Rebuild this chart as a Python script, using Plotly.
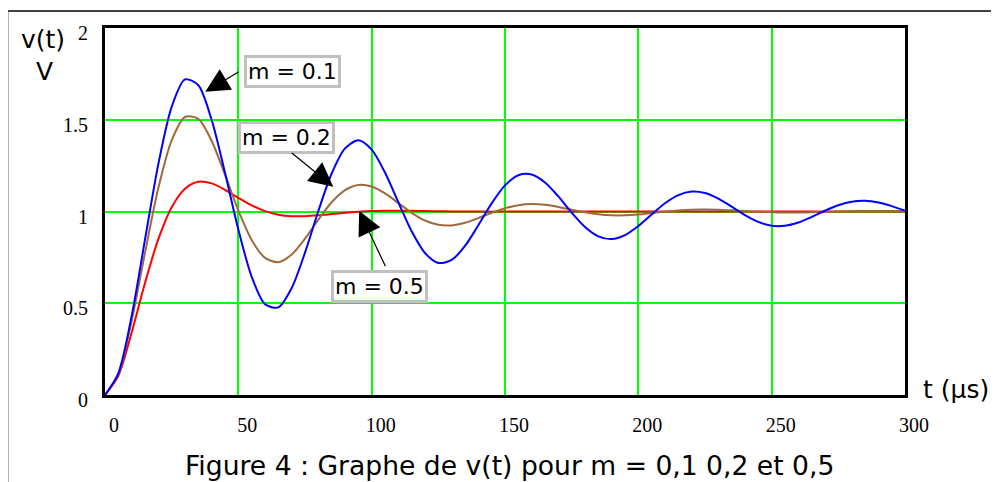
import plotly.graph_objects as go

# time samples (µs)
t_us = list(range(0, 305, 5))

# v(t), m = 0.1
v_m01 = [0.0, 0.1185, 0.4310, 0.8464, 1.2581, 1.5704, 1.7201, 1.6878, 1.4983, 1.2108,
         0.9014, 0.6445, 0.4949, 0.4772, 0.5830, 0.7758, 1.0026, 1.2072, 1.3440, 1.3877,
         1.3369, 1.2124, 1.0503, 0.8919, 0.7737, 0.7196, 0.7359, 0.8122, 0.9250, 1.0445,
         1.1423, 1.1976, 1.2017, 1.1583, 1.0822, 0.9942, 0.9159, 0.8647, 0.8498, 0.8714,
         0.9209, 0.9841, 1.0450, 1.0896, 1.1091, 1.1013, 1.0707, 1.0265, 0.9803, 0.9431,
         0.9227, 0.9223, 0.9400, 0.9700, 1.0041, 1.0340, 1.0532, 1.0581, 1.0490, 1.0294,
         1.0048]

# m = 0.2
v_m02 = [0.0, 0.1147, 0.4050, 0.7748, 1.1275, 1.3880, 1.5151, 1.5049, 1.3845, 1.2006,
         1.0055, 0.8446, 0.7473, 0.7237, 0.7657, 0.8521, 0.9556, 1.0503, 1.1166, 1.1450,
         1.1361, 1.0986, 1.0460, 0.9928, 0.9508, 0.9273, 0.9242, 0.9385, 0.9639, 0.9926,
         1.0178, 1.0345, 1.0405, 1.0364, 1.0250, 1.0101, 0.9957, 0.9848, 0.9793, 0.9794,
         0.9840, 0.9914, 0.9993, 1.0059, 1.0101, 1.0112, 1.0097, 1.0062, 1.0021, 0.9982,
         0.9954, 0.9942, 0.9944, 0.9959, 0.9980, 1.0002, 1.0019, 1.0029, 1.0031, 1.0025,
         1.0015]

# m = 0.5
v_m05 = [0.0, 0.1044, 0.3403, 0.6105, 0.8494, 1.0234, 1.1244, 1.1617, 1.1531, 1.1184,
         1.0746, 1.0336, 1.0023, 0.9828, 0.9744, 0.9742, 0.9790, 0.9860, 0.9929, 0.9985,
         1.0022, 1.0040, 1.0043, 1.0037, 1.0026, 1.0014, 1.0004, 0.9998, 0.9994, 0.9993,
         0.9994, 0.9995, 0.9997, 0.9999, 1.0000, 1.0000, 1.0000, 1.0000, 1.0000, 1.0000,
         1.0000, 1.0000, 1.0000, 1.0000, 1.0000, 1.0000, 1.0000, 1.0000, 1.0000, 1.0000,
         1.0000, 1.0000, 1.0000, 1.0000, 1.0000, 1.0000, 1.0000, 1.0000, 1.0000, 1.0000,
         1.0000]

x_ticks = [0, 50, 100, 150, 200, 250, 300]
x_tick_text = ["0", "50", "100", "150", "200", "250", "300"]
y_ticks = [0, 0.5, 1, 1.5, 2]
y_tick_text = ["0", "0.5", "1", "1.5", "2"]

series_names = ["m = 0.5", "m = 0.2", "m = 0.1"]
series_colors = ["#ff0000", "#a0693c", "#0000ff"]

fig = go.Figure()
for name, vals, col in zip(series_names, [v_m05, v_m02, v_m01], series_colors):
    fig.add_trace(go.Scatter(x=t_us, y=vals, mode="lines", name=name,
                             line=dict(color=col, width=2, shape="spline", smoothing=0.8),
                             showlegend=False))

# label boxes (text, x, y) and arrows (tip x, tip y, tail offset ax, ay in px)
label_boxes = [("m = 0.1", 70.2, 1.763), ("m = 0.2", 67.9, 1.401), ("m = 0.5", 103.0, 0.590)]
arrows = [(37.6, 1.652, 35, -21), (85.6, 1.135, -43, -35), (95.3, 1.004, 27, 57)]

annotations = []
for txt, bx, by in label_boxes:
    annotations.append(dict(x=bx, y=by, xref="x", yref="y", text=txt, showarrow=False,
                            font=dict(family="DejaVu Sans", size=22, color="black"),
                            bgcolor="white", bordercolor="#c0c0c0", borderwidth=3, borderpad=1))
for px, py, ax_, ay_ in arrows:
    annotations.append(dict(x=px, y=py, xref="x", yref="y", text="", showarrow=True,
                            ax=ax_, ay=ay_, axref="pixel", ayref="pixel",
                            arrowhead=2, arrowsize=4, arrowwidth=1.2, arrowcolor="black"))

annotations += [
    dict(x=-0.078, y=0.970, xref="paper", yref="paper", text="v(t)", showarrow=False,
         font=dict(family="DejaVu Sans", size=25, color="black"), xanchor="center", yanchor="middle"),
    dict(x=-0.076, y=0.881, xref="paper", yref="paper", text="V", showarrow=False,
         font=dict(family="DejaVu Sans", size=25, color="black"), xanchor="center", yanchor="middle"),
    dict(x=1.0637, y=0.015, xref="paper", yref="paper", text="t (µs)", showarrow=False,
         font=dict(family="DejaVu Sans", size=25, color="black"), xanchor="center", yanchor="middle"),
    dict(x=0.5052, y=-0.192, xref="paper", yref="paper",
         text="Figure 4 : Graphe de v(t) pour m = 0,1 0,2 et 0,5", showarrow=False,
         font=dict(family="DejaVu Sans", size=26.6, color="black"), xanchor="center", yanchor="middle"),
]

shapes = [
    dict(type="line", xref="paper", yref="paper", x0=-0.1220, x1=-0.1220, y0=1.0463, y1=-0.32,
         line=dict(color="#404040", width=2)),
    dict(type="line", xref="paper", yref="paper", x0=-0.1220, x1=1.15, y0=1.0463, y1=1.0463,
         line=dict(color="#404040", width=2)),
]

# the page body adds an 8px offset, so the figure is sized to fit the window
fig.update_layout(
    width=991, height=474, autosize=False,
    margin=dict(l=97, r=94, t=20, b=86.5, pad=0),
    paper_bgcolor="white", plot_bgcolor="white",
    annotations=annotations, shapes=shapes,
    xaxis=dict(range=[0, 300], tickvals=x_ticks, ticktext=x_tick_text,
               showgrid=True, gridcolor="#00ff00", gridwidth=2, zeroline=False,
               showline=True, linecolor="black", linewidth=3, mirror=True, ticks="",
               tickfont=dict(family="Liberation Serif", size=20, color="black"),
               ticklabelshift=9, ticklabelstandoff=10, ticklabeloverflow="allow"),
    yaxis=dict(range=[0, 2], tickvals=y_ticks, ticktext=y_tick_text,
               showgrid=True, gridcolor="#00ff00", gridwidth=2, zeroline=False,
               showline=True, linecolor="black", linewidth=3, mirror=True, ticks="",
               tickfont=dict(family="Liberation Serif", size=20, color="black"),
               ticklabelshift=5, ticklabelstandoff=10, ticklabeloverflow="allow"),
)

fig.write_html("out.html")
